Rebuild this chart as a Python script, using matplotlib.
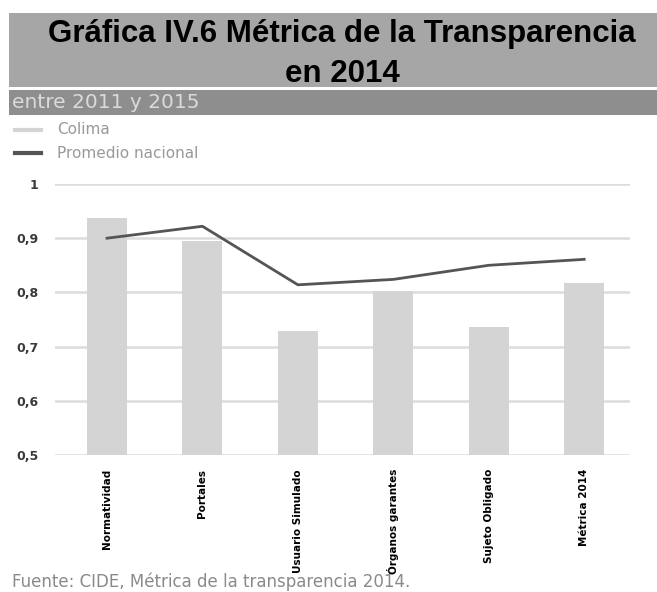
import matplotlib
matplotlib.use("Agg")
import matplotlib.pyplot as plt
from matplotlib.patches import Rectangle
from matplotlib.lines import Line2D

categories = ["Normatividad", "Portales", "Usuario Simulado", "Órganos garantes",
              "Sujeto Obligado", "Métrica 2014"]
colima = [0.938, 0.895, 0.729, 0.802, 0.737, 0.818]
promedio = [0.900, 0.922, 0.814, 0.824, 0.850, 0.861]
yticks = [0.5, 0.6, 0.7, 0.8, 0.9, 1.0]
ytick_labels = ["0,5", "0,6", "0,7", "0,8", "0,9", "1"]

W, H = 657, 592
fig = plt.figure(figsize=(W / 100, H / 100), dpi=100)
fig.patch.set_facecolor("white")

def fx(px):
    return px / W

def fy(py):
    return 1 - py / H

# Title box
fig.patches.append(Rectangle((fx(9), fy(87)), fx(657 - 9), (87 - 13) / H,
                             transform=fig.transFigure, facecolor="#a6a6a6",
                             edgecolor="none", zorder=0))
fig.text(fx(342), fy(42), "Gráfica IV.6 Métrica de la Transparencia",
         ha="center", va="baseline", fontsize=22.5, fontweight="bold",
         family="Liberation Sans", color="black")
fig.text(fx(342), fy(82), "en 2014", ha="center", va="baseline",
         fontsize=22.5, fontweight="bold", family="Liberation Sans", color="black")

# Subtitle band
fig.patches.append(Rectangle((fx(9), fy(115)), fx(657 - 9), (115 - 90) / H,
                             transform=fig.transFigure, facecolor="#8e8e8e",
                             edgecolor="none", zorder=0))
fig.text(fx(12), fy(103), "entre 2011 y 2015", ha="left", va="center",
         fontsize=14.5, color="#dadada", family="DejaVu Sans")

# Legend
fig.lines.append(Line2D([fx(15), fx(41)], [fy(130), fy(130)], transform=fig.transFigure,
                        color="#d4d4d4", lw=3))
fig.text(fx(57), fy(130), "Colima", ha="left", va="center", fontsize=11,
         color="#999999", family="DejaVu Sans")
fig.lines.append(Line2D([fx(15), fx(41)], [fy(153), fy(153)], transform=fig.transFigure,
                        color="#555555", lw=3))
fig.text(fx(57), fy(154), "Promedio nacional", ha="left", va="center", fontsize=11,
         color="#999999", family="DejaVu Sans")

# Axes
ax = fig.add_axes([fx(55), fy(455), fx(630 - 55), (455 - 184) / H])
x = list(range(len(categories)))
ax.bar(x, colima, width=0.42, color="#d4d4d4", zorder=2, bottom=0)
ax.plot(x, promedio, color="#555555", lw=2, zorder=3)
ax.set_ylim(0.5, 1.0)
ax.set_xlim(-0.545, 5.48)
ax.set_yticks(yticks)
ax.set_yticklabels(ytick_labels, fontsize=9, fontweight="bold", color="#3a3a3a",
                   family="DejaVu Sans")
ax.yaxis.grid(True, color="#dcdcdc", lw=1.8, zorder=0)
ax.set_axisbelow(True)
for s in ax.spines.values():
    s.set_visible(False)
ax.tick_params(axis="both", length=0)
ax.tick_params(axis="y", pad=12)
ax.set_xticks(x)
ax.set_xticklabels(categories, rotation=90, fontsize=7.5, fontweight="bold",
                   family="Liberation Sans Narrow", color="black")
ax.tick_params(axis="x", pad=10)

fig.text(fx(12), fy(582), "Fuente: CIDE, Métrica de la transparencia 2014.",
         ha="left", va="center", fontsize=12, color="#8a8a8a", family="DejaVu Sans")

fig.savefig("out.png", dpi=100)
